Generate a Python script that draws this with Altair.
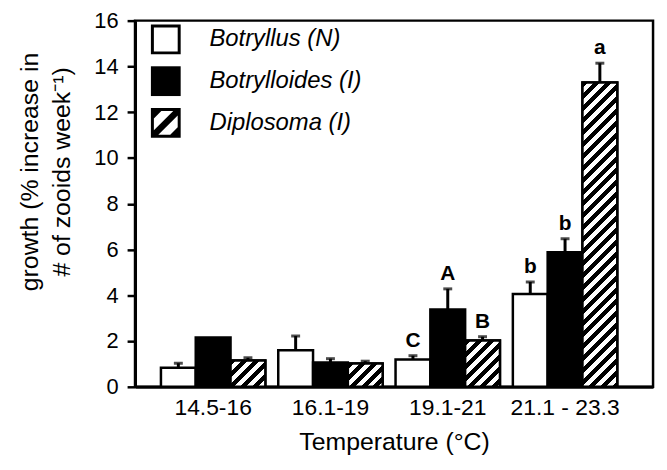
import altair as alt
import pandas as pd

temps = ["14.5-16", "16.1-19", "19.1-21", "21.1 - 23.3"]
species = ["Botryllus (N)", "Botrylloides (I)", "Diplosoma (I)"]

botryllus_mean = [0.83, 1.6, 1.19, 4.06]
botryllus_se = [0.2, 0.62, 0.17, 0.52]
botrylloides_mean = [2.15, 1.06, 3.38, 5.88]
botrylloides_se = [0.0, 0.17, 0.9, 0.59]
diplosoma_mean = [1.15, 1.02, 2.02, 13.3]
diplosoma_se = [0.12, 0.1, 0.17, 0.84]

botryllus_letters = ["", "", "C", "b"]
botrylloides_letters = ["", "", "A", "b"]
diplosoma_letters = ["", "", "B", "a"]

y_ticks = list(range(0, 17))
y_title = ["growth (% increase in", "# of zooids week\u207b\u00b9)"]
x_title = "Temperature (\u00b0C)"

# layout / style
W, H = 522, 369
P_IN, P_OUT, ALIGN = 0.11, 0.263, 0.42
FONT = "Liberation Sans"

rows = []
for sp, means, ses, lets in [
    (species[0], botryllus_mean, botryllus_se, botryllus_letters),
    (species[1], botrylloides_mean, botrylloides_se, botrylloides_letters),
    (species[2], diplosoma_mean, diplosoma_se, diplosoma_letters),
]:
    for t, m, s, l in zip(temps, means, ses, lets):
        rows.append({"temp": t, "species": sp, "mean": m, "se": s,
                     "hi": m + s, "letter": l})
df = pd.DataFrame(rows)

# hatch pattern as a hard-stop linear gradient (style only)
step = W / (len(temps) - P_IN + 2 * P_OUT)
bar_w = step * (1 - P_IN) / 3


def hatch(w, h, period=12.0, frac=0.5):
    s = w + h
    k = s / (w * w + h * h)
    n = s / period
    stops = []
    i = 0
    while i / n < 1:
        a, b, c = i / n, (i + frac) / n, (i + 1) / n
        stops.append({"offset": a, "color": "black"})
        stops.append({"offset": min(b, 1.0), "color": "black"})
        if b < 1:
            stops.append({"offset": b, "color": "white"})
            stops.append({"offset": min(c, 1.0), "color": "white"})
        i += 1
    return {"gradient": "linear", "x1": 0, "y1": 0, "x2": w * k, "y2": h * k,
            "stops": stops}


# legend swatch shapes (black fill; holes show the white background)
open_box = "M-1,-1L1,-1L1,1L-1,1ZM-0.8,-0.8L-0.8,0.8L0.8,0.8L0.8,-0.8Z"
solid_box = "M-1,-1L1,-1L1,1L-1,1Z"
hatch_box = ("M-1,-1L1,-1L1,1L-1,1Z"
             "M-0.8,-0.3L-0.8,0.5L0.5,-0.8L-0.3,-0.8Z"
             "M0.8,-0.5L-0.5,0.8L0.3,0.8L0.8,0.3Z")

legend = alt.Legend(title=None, orient="none", legendX=16, legendY=4,
                    symbolFillColor="black", symbolSize=900, symbolOpacity=1,
                    symbolStrokeWidth=0, rowPadding=12, labelOffset=29,
                    labelFont=FONT, labelFontSize=24, labelFontStyle="italic",
                    labelColor="black", labelLimit=400)

x_enc = alt.X("temp:N", sort=temps,
              scale=alt.Scale(paddingInner=P_IN, paddingOuter=P_OUT, align=ALIGN),
              axis=alt.Axis(title=x_title, labelAngle=0, ticks=False,
                            domainWidth=3, domainColor="black",
                            labelFontSize=23, labelPadding=10,
                            titleFontSize=25, titlePadding=10))
xoff = alt.XOffset("species:N", sort=species,
                   scale=alt.Scale(paddingInner=0, paddingOuter=0))
y_scale = alt.Scale(domain=[0, 16], nice=False)
y_axis = alt.Axis(values=y_ticks, title=y_title,
                  labelExpr="datum.value % 2 === 0 ? datum.label : ''",
                  tickSize={"condition": {"test": "datum.value % 2 === 0", "value": 8},
                            "value": 4},
                  tickWidth=2.5, tickColor="black", domainWidth=3,
                  domainColor="black", labelFontSize=22, labelPadding=9,
                  titleFontSize=25, titleLineHeight=32,
                  titleX=-93, titleY=152)

shape_scale = alt.Scale(domain=species, range=[open_box, solid_box, hatch_box])

base = alt.Chart(df).encode(x=x_enc, xOffset=xoff)

# legend carrier: small points hidden underneath the bars
legend_pts = base.transform_calculate(mid="datum.mean / 2").mark_point(
    filled=True, color="black", size=8, strokeWidth=0, opacity=1
).encode(
    y=alt.Y("mid:Q", scale=y_scale, axis=y_axis),
    shape=alt.Shape("species:N", scale=shape_scale, legend=legend),
)

bar_fill = (alt.when(alt.datum.species == species[0]).then(alt.value("white"))
            .otherwise(alt.value("black")))
bars = base.mark_bar(stroke="black", strokeWidth=2.5).encode(
    y=alt.Y("mean:Q"), fill=bar_fill,
)

hat = df[df["species"] == species[2]]
rule = None
for t, m in zip(hat["temp"], hat["mean"]):
    g = alt.value(hatch(bar_w, m * H / 16))
    if rule is None:
        rule = alt.when(alt.datum.temp == t).then(g)
    else:
        rule = rule.when(alt.datum.temp == t).then(g)
hatch_fill = rule.otherwise(alt.value("white"))

hatched = base.mark_bar(stroke="black", strokeWidth=2.5).encode(
    y=alt.Y("mean:Q"), fill=hatch_fill
).transform_filter(alt.datum.species == species[2])

err = base.transform_filter("datum.se > 0")
err_line = err.mark_rule(color="black", strokeWidth=3).encode(
    y="mean:Q", y2="hi:Q")
err_cap = err.mark_tick(color="black", size=9, thickness=3, orient="horizontal").encode(
    y="hi:Q")

letters = base.transform_filter("datum.letter != ''").mark_text(
    fontWeight="bold", fontSize=21, baseline="alphabetic", dy=-9, color="black"
).encode(y="hi:Q", text="letter:N")

chart = alt.layer(legend_pts, bars, hatched, err_line, err_cap, letters).properties(
    width=W, height=H,
    padding={"left": 128, "top": 11, "right": 6, "bottom": 70},
    autosize=alt.AutoSizeParams(type="none"),
).configure(font=FONT).configure_view(
    stroke="black", strokeWidth=2.5
).configure_axis(
    grid=False, labelColor="black", titleColor="black",
    labelFont=FONT, titleFont=FONT, titleFontWeight="normal"
)

chart.save("out.html", embed_options={"renderer": "svg", "actions": False})
